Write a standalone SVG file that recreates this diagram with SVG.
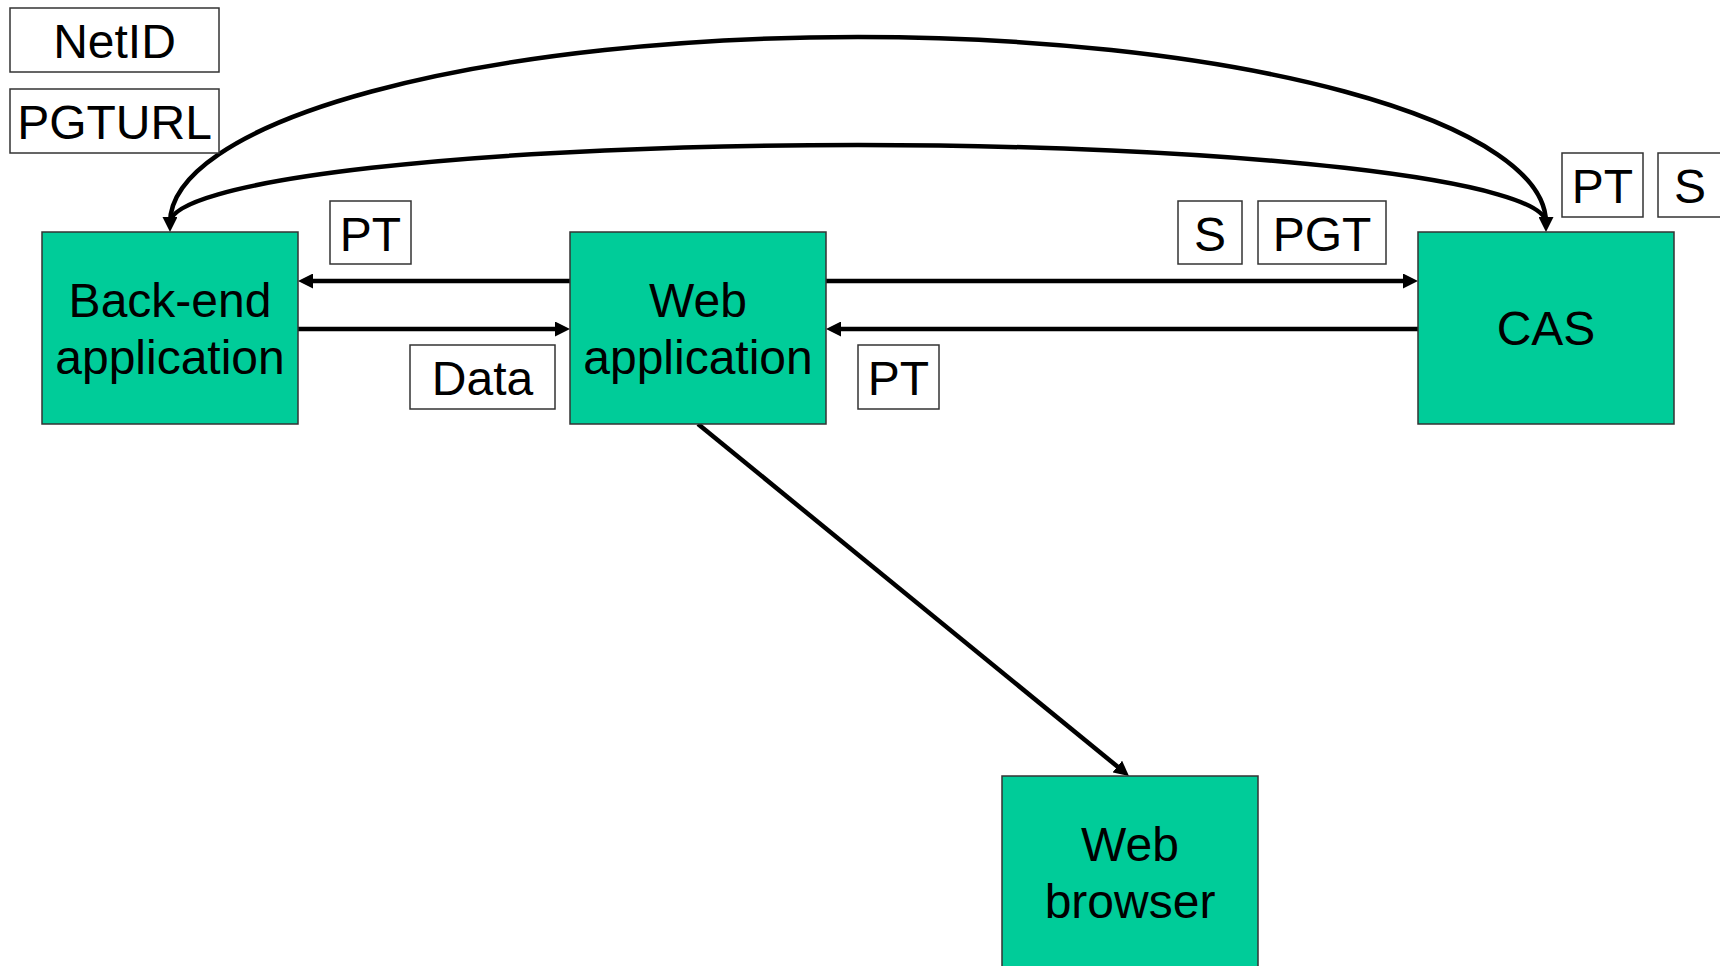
<svg xmlns="http://www.w3.org/2000/svg" width="1720" height="966" viewBox="0 0 1720 966">
<style>
.node{fill:#00CC99;stroke:#333333;stroke-width:1.5}
.lab{fill:#ffffff;stroke:#333333;stroke-width:1.5}
.nt{font-family:"Liberation Sans",Arial,sans-serif;font-size:48px;fill:#000;text-anchor:middle}
.lt{font-family:"Liberation Sans",Arial,sans-serif;font-size:48px;fill:#000;text-anchor:middle}
.con{fill:none;stroke:#000;stroke-width:4.5;marker-end:url(#ah)}
</style>
<defs>
<marker id="ah" viewBox="0 0 15 15" markerWidth="15" markerHeight="15" refX="6" refY="7.5" orient="auto" markerUnits="userSpaceOnUse">
<path d="M0,0 L15,7.5 L0,15 z" fill="#000"/>
</marker>
</defs>
<rect width="1720" height="966" fill="#ffffff"/>
<g id="connectors">
<path class="con" d="M1546,223 A688,186 0 0 0 170,223"/>
<path class="con" d="M170,223 A688,78 0 0 1 1546,223"/>
<line class="con" x1="570" y1="281" x2="307" y2="281"/>
<line class="con" x1="298" y1="329" x2="561" y2="329"/>
<line class="con" x1="826" y1="281" x2="1409" y2="281"/>
<line class="con" x1="1418" y1="329" x2="835" y2="329"/>
<line class="con" x1="698" y1="424" x2="1122" y2="770.3"/>
</g>
<g id="backend">
<rect class="node" x="42" y="232" width="256" height="192"/>
<text class="nt" x="170" y="317">Back-end</text>
<text class="nt" x="170" y="374">application</text>
</g>
<g id="webapp">
<rect class="node" x="570" y="232" width="256" height="192"/>
<text class="nt" x="698" y="317">Web</text>
<text class="nt" x="698" y="374">application</text>
</g>
<g id="cas">
<rect class="node" x="1418" y="232" width="256" height="192"/>
<text class="nt" x="1546" y="345">CAS</text>
</g>
<g id="browser">
<rect class="node" x="1002" y="776" width="256" height="200"/>
<text class="nt" x="1130" y="861">Web</text>
<text class="nt" x="1130" y="918">browser</text>
</g>
<g id="label-netid">
<rect class="lab" x="10" y="8" width="209" height="64"/>
<text class="lt" x="114.5" y="58">NetID</text>
</g>
<g id="label-pgturl">
<rect class="lab" x="10" y="89" width="209" height="64"/>
<text class="lt" x="114.5" y="139">PGTURL</text>
</g>
<g id="label-pt1">
<rect class="lab" x="330" y="201" width="81" height="63"/>
<text class="lt" x="370.5" y="251">PT</text>
</g>
<g id="label-data">
<rect class="lab" x="410" y="345" width="145" height="64"/>
<text class="lt" x="482.5" y="395">Data</text>
</g>
<g id="label-pt2">
<rect class="lab" x="858" y="345" width="81" height="64"/>
<text class="lt" x="898.5" y="395">PT</text>
</g>
<g id="label-s1">
<rect class="lab" x="1178" y="201" width="64" height="63"/>
<text class="lt" x="1210" y="251">S</text>
</g>
<g id="label-pgt">
<rect class="lab" x="1258" y="201" width="128" height="63"/>
<text class="lt" x="1322" y="251">PGT</text>
</g>
<g id="label-pt3">
<rect class="lab" x="1562" y="153" width="81" height="64"/>
<text class="lt" x="1602.5" y="203">PT</text>
</g>
<g id="label-s2">
<rect class="lab" x="1658" y="153" width="70" height="64"/>
<text class="lt" x="1690" y="203">S</text>
</g>
</svg>
